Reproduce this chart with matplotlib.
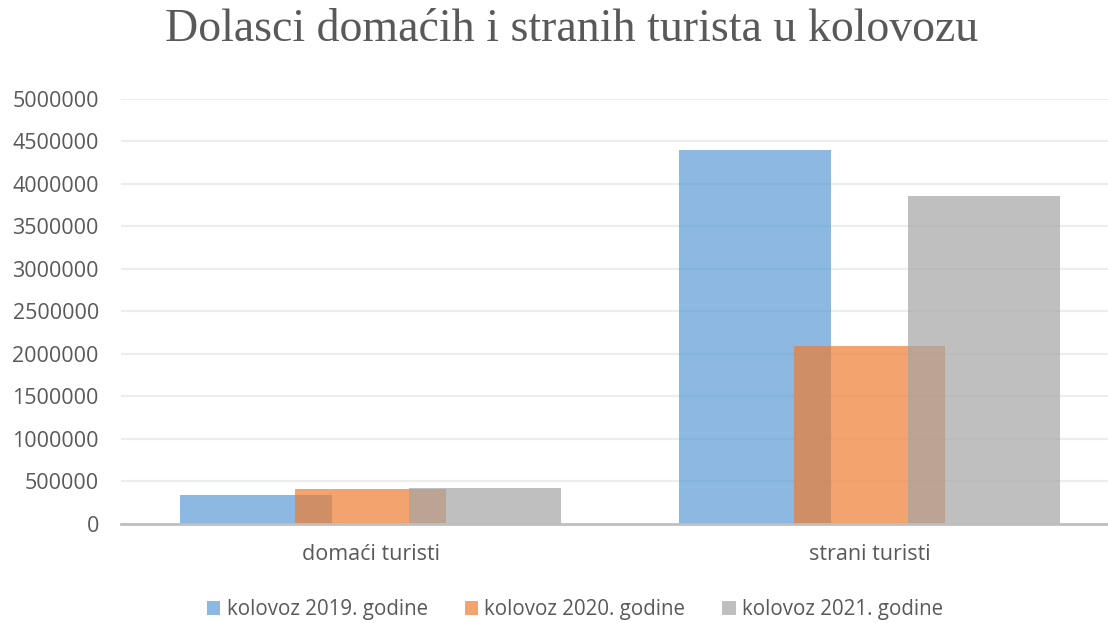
# dolasci turista u kolovozu - stupcasti graf

import matplotlib
matplotlib.use('Agg')
import matplotlib.pyplot as plt
import numpy as np

kategorije = ['domaći turisti', 'strani turisti']
serije = ['kolovoz 2019. godine', 'kolovoz 2020. godine', 'kolovoz 2021. godine']
god_2019 = [336000, 4400000]
god_2020 = [406000, 2090000]
god_2021 = [418000, 3857000]
boje = ['#5B9BD5', '#ED7D31', '#A5A5A5']
y_ticks = [0, 500000, 1000000, 1500000, 2000000, 2500000,
           3000000, 3500000, 4000000, 4500000, 5000000]

siva = '#595959'

fig = plt.figure(figsize=(11.08, 6.23), dpi=100)
ax = fig.add_axes([121 / 1108, 99.5 / 623, 998 / 1108, 424.5 / 623])

x = np.arange(len(kategorije))
sirina = 0.3046
pomak = 0.2285

for i, (vrijednosti, boja, ime) in enumerate(zip([god_2019, god_2020, god_2021], boje, serije)):
    ax.bar(x + (i - 1) * pomak, vrijednosti, width=sirina, color=boja,
           alpha=0.7, label=ime, zorder=2 + i, linewidth=0)

ax.set_xlim(-0.5, 1.5)
ax.set_ylim(0, 5000000)
ax.set_yticks(y_ticks)
ax.set_yticklabels([str(t) for t in y_ticks])
ax.set_xticks(x)
ax.set_xticklabels(kategorije)

# mreza i osi
ax.grid(axis='y', color='#EDEDED', linewidth=1.6, zorder=0)
ax.set_axisbelow(True)
for s in ['top', 'right', 'left']:
    ax.spines[s].set_visible(False)
ax.spines['bottom'].set_color('#BFBFBF')
ax.spines['bottom'].set_linewidth(2)
ax.spines['bottom'].set_zorder(10)

ax.tick_params(axis='both', length=0, colors=siva, labelsize=15.5)
ax.tick_params(axis='y', pad=16)
ax.tick_params(axis='x', pad=15)
for lab in ax.get_xticklabels() + ax.get_yticklabels():
    lab.set_fontfamily('Open Sans')

fig.text(572 / 1108, 1 - 30 / 623, 'Dolasci domaćih i stranih turista u kolovozu',
         ha='center', va='center', fontsize=33, color=siva,
         family='Liberation Serif')

leg = fig.legend(loc='center', bbox_to_anchor=(575 / 1108, 1 - 610 / 623), ncol=3,
                 frameon=False, handlelength=0.65, handleheight=0.65,
                 handletextpad=0.3, columnspacing=1.8,
                 prop={'family': 'Open Sans', 'size': 14.8})
for t in leg.get_texts():
    t.set_color(siva)

plt.savefig('out.png', dpi=100)
